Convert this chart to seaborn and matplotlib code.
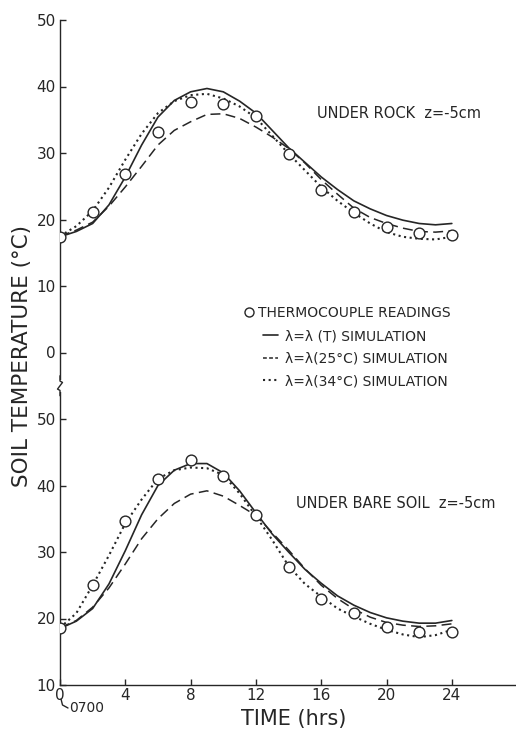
import numpy as np
import pandas as pd
import matplotlib
matplotlib.use("Agg")
import matplotlib.pyplot as plt
from matplotlib.lines import Line2D
import seaborn as sns

# ---------------- data ----------------
hours = list(range(25))
obs_hours = list(range(0, 25, 2))

# Upper panel: under rock, z = -5 cm
rock_obs = [17.4, 21.2, 26.8, 33.1, 37.6, 37.4, 35.5, 29.9, 24.4, 21.1, 18.8, 17.9, 17.6]
rock_lamT = [17.4, 18.2, 19.4, 22.2, 26.4, 31.2, 35.4, 37.9, 39.2, 39.7, 39.2, 37.8, 36.0,
             33.4, 30.8, 28.6, 26.4, 24.5, 22.8, 21.6, 20.6, 19.9, 19.4, 19.2, 19.4]
rock_lam25 = [17.5, 18.4, 19.6, 22.0, 24.9, 28.0, 31.2, 33.4, 34.7, 35.8, 35.9, 35.2, 33.9,
              32.4, 30.7, 28.5, 26.0, 23.8, 21.7, 20.3, 19.4, 18.7, 18.2, 18.1, 18.3]
rock_lam34 = [17.5, 19.0, 21.3, 24.8, 29.0, 32.9, 36.0, 37.8, 38.7, 38.9, 38.2, 37.0, 35.3,
              32.6, 29.9, 27.4, 24.9, 22.8, 21.0, 19.4, 18.1, 17.4, 17.1, 17.0, 17.4]

# Lower panel: under bare soil, z = -5 cm
bare_obs = [18.5, 25.1, 34.6, 41.0, 43.8, 41.5, 35.6, 27.7, 23.0, 20.8, 18.7, 17.9, 17.9]
bare_lamT = [18.5, 19.6, 21.5, 25.2, 30.2, 35.6, 40.0, 42.3, 43.3, 43.3, 41.9, 39.2, 35.9,
             32.7, 30.0, 27.4, 25.3, 23.4, 22.0, 20.9, 20.1, 19.6, 19.3, 19.3, 19.7]
bare_lam25 = [18.6, 19.7, 21.7, 24.6, 28.2, 32.0, 35.0, 37.3, 38.7, 39.2, 38.4, 37.0, 35.5,
              32.9, 30.3, 27.5, 25.0, 23.0, 21.4, 20.2, 19.4, 19.0, 18.8, 18.9, 19.2]
bare_lam34 = [18.6, 20.8, 25.0, 29.5, 34.3, 37.9, 41.0, 42.3, 42.7, 42.6, 41.6, 38.8, 35.4,
              31.8, 27.9, 25.2, 23.3, 21.5, 20.3, 19.2, 18.3, 17.6, 17.2, 17.5, 18.3]

x_ticks = [0, 4, 8, 12, 16, 20, 24]
lower_ticks = [10, 20, 30, 40, 50]
upper_ticks = [0, 10, 20, 30, 40, 50]

legend_labels = ["THERMOCOUPLE READINGS",
                 "\u03bb=\u03bb (T) SIMULATION",
                 "\u03bb=\u03bb(25\u00b0C) SIMULATION",
                 "\u03bb=\u03bb(34\u00b0C) SIMULATION"]

# ---------------- layout of the broken axis ----------------
UPPER_SHIFT = 60   # upper panel value v is drawn at v + 60

# ---------------- build tables ----------------
sim_rows = []
for panel, shift, series in [("rock", UPPER_SHIFT, {"T": rock_lamT, "25": rock_lam25, "34": rock_lam34}),
                             ("bare", 0, {"T": bare_lamT, "25": bare_lam25, "34": bare_lam34})]:
    for model, vals in series.items():
        for h, v in zip(hours, vals):
            sim_rows.append({"panel": panel, "model": model, "hour": h, "y": v + shift})
sim = pd.DataFrame(sim_rows)

obs_rows = []
for panel, shift, vals in [("rock", UPPER_SHIFT, rock_obs), ("bare", 0, bare_obs)]:
    for h, v in zip(obs_hours, vals):
        obs_rows.append({"panel": panel, "hour": h, "y": v + shift})
obs = pd.DataFrame(obs_rows)

# ---------------- style ----------------
sns.set_style("ticks")
plt.rcParams["font.family"] = ["DejaVu Sans"]
ink = "#262626"

fig = plt.figure(figsize=(5.16, 7.32), dpi=100)
W, H = 516, 732
ax_left, ax_right, ax_bottom, ax_top = 60, 516, 685, 20
ax = fig.add_axes([ax_left / W, 1 - ax_bottom / H, (ax_right - ax_left) / W, (ax_bottom - ax_top) / H])

styles = {
    "T": dict(linestyle="-", lw=1.2),
    "25": dict(linestyle=(0, (6.5, 3.5)), lw=1.1),
    "34": dict(linestyle=(0, (1.0, 1.7)), lw=1.5),
}
for model, st in styles.items():
    sns.lineplot(data=sim[sim["model"] == model], x="hour", y="y", units="panel",
                 estimator=None, color=ink, legend=False, ax=ax, **st)

sns.scatterplot(data=obs, x="hour", y="y", marker="o", s=60, facecolor="white",
                edgecolor=ink, linewidth=1.0, ax=ax, zorder=5, legend=False)

# ---------------- axes ----------------
ax.set_xlim(0, 27.93)
ax.set_ylim(10, 110)
ax.set_xticks(x_ticks)
ax.set_xticklabels([str(t) for t in x_ticks])
ax.set_yticks(lower_ticks + [u + UPPER_SHIFT for u in upper_ticks])
ax.set_yticklabels([str(t) for t in lower_ticks] + [str(u) for u in upper_ticks])
ax.tick_params(axis="both", direction="in", length=4.5, width=1.0, color=ink,
               labelsize=11, labelcolor=ink)
ax.tick_params(axis="x", pad=2.5)
ax.tick_params(axis="y", pad=3)
for s in ["top", "right"]:
    ax.spines[s].set_visible(False)
for s in ["left", "bottom"]:
    ax.spines[s].set_linewidth(1.0)
    ax.spines[s].set_color(ink)
ax.set_xlabel("")
ax.set_ylabel("")

# axis break symbol on the y axis
ytr = ax.get_yaxis_transform()
brk = 55.0
ax.plot([0, 0], [brk - 0.9, brk + 0.9], color="white", lw=3, transform=ytr,
        clip_on=False, zorder=6, solid_capstyle="butt")
dx = 2.5 / (ax_right - ax_left)
ax.plot([0, 0, dx, -dx, 0, 0], [brk + 1.5, brk + 0.7, brk + 0.5, brk - 0.5, brk - 0.7, brk - 1.5],
        color=ink, lw=1.0, transform=ytr, clip_on=False, zorder=7)

# axis labels
fig.text(22 / W, 1 - 356 / H, "SOIL TEMPERATURE (\u00b0C)", rotation=90, ha="center",
         va="center", fontsize=15.5, color=ink)
fig.text(294 / W, 1 - 719 / H, "TIME (hrs)", ha="center", va="center", fontsize=15, color=ink)

# 0700 annotation under the origin
fig.text(69 / W, 1 - 708 / H, "0700", ha="left", va="center", fontsize=10, color=ink)
fig.add_artist(Line2D([61 / W, 62.5 / W, 68 / W], [1 - 699 / H, 1 - 705 / H, 1 - 708 / H],
                      color=ink, lw=1.0))

# panel captions
ax.text((399 - ax_left) / (ax_right - ax_left), (ax_bottom - 114) / (ax_bottom - ax_top),
        "UNDER ROCK  z=-5cm", transform=ax.transAxes, ha="center", va="center",
        fontsize=10.5, color=ink)
ax.text((396 - ax_left) / (ax_right - ax_left), (ax_bottom - 503) / (ax_bottom - ax_top),
        "UNDER BARE SOIL  z=-5cm", transform=ax.transAxes, ha="center", va="center",
        fontsize=10.5, color=ink)

# legends
h_obs = Line2D([], [], marker="o", linestyle="none", markersize=6.5, markerfacecolor="white",
               markeredgecolor=ink, markeredgewidth=1.0)
h_T = Line2D([], [], color=ink, **styles["T"])
h_25 = Line2D([], [], color=ink, lw=1.1, linestyle=(0, (2.5, 1.5)))
h_34 = Line2D([], [], color=ink, **styles["34"])

leg1 = ax.legend([h_obs], legend_labels[:1], loc="upper left",
                 bbox_to_anchor=((243 - ax_left) / (ax_right - ax_left), (ax_bottom - 306) / (ax_bottom - ax_top)),
                 frameon=False, fontsize=10, handlelength=0.8, handletextpad=0.25,
                 borderpad=0, borderaxespad=0, labelcolor=ink)
ax.add_artist(leg1)
ax.legend([h_T, h_25, h_34], legend_labels[1:], loc="upper left",
          bbox_to_anchor=((263 - ax_left) / (ax_right - ax_left), (ax_bottom - 329) / (ax_bottom - ax_top)),
          frameon=False, fontsize=10, handlelength=1.1, handletextpad=0.5, labelspacing=0.62,
          borderpad=0, borderaxespad=0, labelcolor=ink)

fig.savefig("out.png", dpi=100, facecolor="white")
